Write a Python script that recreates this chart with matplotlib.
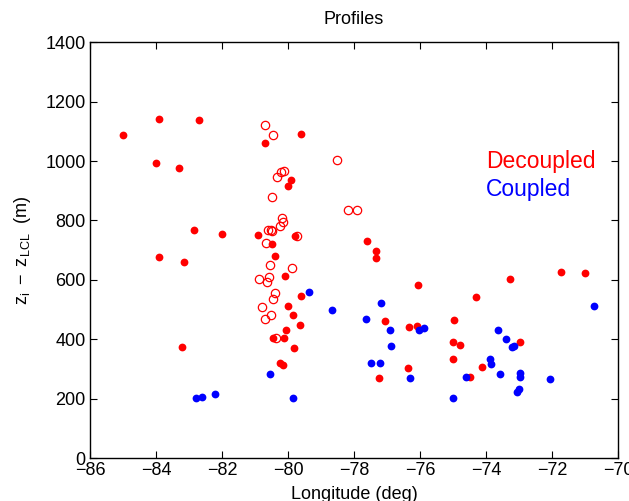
import numpy as np
import matplotlib
matplotlib.use("Agg")
import matplotlib.pyplot as plt

plt.rcParams['font.family'] = ['Liberation Sans', 'DejaVu Sans']
plt.rcParams['mathtext.fontset'] = 'custom'
plt.rcParams['mathtext.rm'] = 'Liberation Sans'
plt.rcParams['mathtext.it'] = 'Liberation Sans'

# decoupled profiles (filled red)
dec_lon = [-85.0, -83.9, -82.7, -84.0, -83.3, -80.7, -79.6, -79.9, -80.0,
           -82.85, -82.0, -80.9, -80.5, -80.4, -80.1, -79.8, -77.6, -77.33,
           -77.33, -83.9, -83.15, -83.2, -80.0, -80.06, -80.45, -80.12,
           -80.24, -80.15, -79.6, -79.85, -79.64, -79.82, -76.06, -77.06,
           -76.33, -76.09, -76.36, -77.24, -74.3, -73.27, -71.73, -71.0,
           -74.97, -75.0, -74.79, -75.0, -74.12, -74.48, -72.97]
dec_z = [1087, 1141, 1137, 993, 976, 1060, 1090, 935, 915,
         767, 754, 750, 720, 680, 612, 747, 730, 697,
         673, 676, 660, 374, 511, 431, 404, 404,
         320, 313, 545, 481, 448, 370, 582, 461,
         441, 444, 303, 269, 542, 602, 626, 623,
         464, 390, 380, 333, 306, 273, 390]

# decoupled profiles (open red)
dec2_lon = [-80.7, -80.45, -78.52, -80.12, -80.2, -80.33, -80.48, -78.18,
            -77.91, -80.18, -80.15, -80.24, -80.61, -80.52, -80.48, -80.67,
            -79.73, -80.55, -79.88, -80.88, -80.58, -80.64, -80.39, -80.45,
            -80.79, -80.52, -80.7, -80.36]
dec2_z = [1121, 1087, 1003, 968, 963, 946, 878, 835,
          835, 808, 794, 781, 767, 767, 764, 723,
          747, 649, 639, 602, 609, 592, 555, 535,
          508, 481, 468, 404]

# coupled profiles (blue)
cou_lon = [-80.55, -82.8, -82.6, -82.2, -79.36, -78.67, -77.18, -77.64,
           -76.91, -76.88, -77.48, -77.21, -79.85, -76.3, -76.03, -75.88,
           -75.0, -74.6, -73.64, -73.39, -73.21, -73.16, -73.88, -73.85,
           -73.58, -72.97, -72.97, -73.0, -73.06, -72.06, -70.73]
cou_z = [283, 202, 205, 215, 559, 498, 522, 468,
         431, 377, 320, 320, 202, 269, 431, 437,
         202, 273, 431, 400, 374, 376, 333, 316,
         283, 286, 273, 232, 222, 266, 511]

fig = plt.figure(figsize=(6.29, 5.01), dpi=100)
ax = fig.add_axes([0.1431, 0.0858, 0.8394, 0.8298])

ax.plot(dec_lon, dec_z, 'o', color='red', markersize=5.6, markeredgewidth=0)
ax.plot(dec2_lon, dec2_z, 'o', markerfacecolor='none', markeredgecolor='red',
        markersize=6.0, markeredgewidth=0.9)
ax.plot(cou_lon, cou_z, 'o', color='blue', markersize=5.6, markeredgewidth=0)

ax.text(-74, 1000, 'Decoupled', color='red', fontsize=16.5, va='center')
ax.text(-74, 905, 'Coupled', color='blue', fontsize=16.5, va='center')

ax.set_xlim(-86, -70)
ax.set_ylim(0, 1400)
ax.set_xticks(np.arange(-86, -69, 2))
ax.set_yticks(np.arange(0, 1401, 200))
ax.tick_params(direction='in', top=True, right=True, length=5, labelsize=13,
               width=0.8, pad=3)
for s in ax.spines.values():
    s.set_linewidth(1.0)

ax.set_title('Profiles', fontsize=13, pad=13)
ax.set_xlabel('Longitude (deg)', fontsize=13, labelpad=5)
ax.set_ylabel(r'$\mathregular{z_i\ -\ z_{LCL}}$  (m)', fontsize=13, labelpad=9)

fig.savefig('out.png', dpi=100)
